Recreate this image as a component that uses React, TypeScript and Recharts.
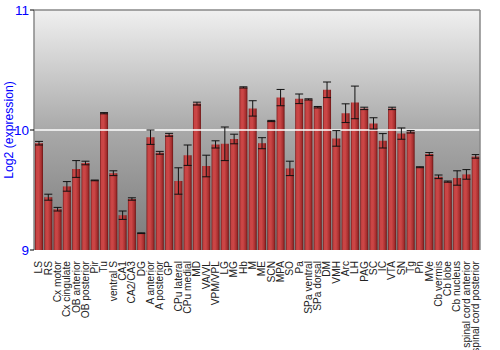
import React from 'react';
import { BarChart, Bar, XAxis, YAxis, ErrorBar, CartesianGrid, ReferenceLine } from 'recharts';

const categories = [
  'LS', 'RS', 'Cx motor', 'Cx cingulate', 'OB anterior', 'OB posterior', 'Pir', 'Tu', 'ventral S', 'CA1',
  'CA2/CA3', 'DG', 'A anterior', 'A posterior', 'GP', 'CPu lateral', 'CPu medial', 'MD', 'VA/VL', 'VPM/VPL',
  'LG', 'MG', 'Hb', 'M', 'ME', 'SCN', 'MPA', 'SO', 'Pa', 'SPa ventral',
  'SPa dorsal', 'DM', 'VMH', 'Arc', 'LH', 'PAG', 'SC', 'IC', 'VTA', 'SN',
  'Tg', 'Pn', 'MVe', 'Cb vermis', 'Cb lobe', 'Cb nucleus', 'spinal cord anterior', 'spinal cord posterior',
];

const values = [
  9.89, 9.44, 9.34, 9.53, 9.675, 9.725, 9.58, 10.14, 9.64, 9.29,
  9.425, 9.14, 9.94, 9.81, 9.96, 9.575, 9.79, 10.22, 9.70, 9.88,
  9.885, 9.925, 10.355, 10.18, 9.89, 10.075, 10.27, 9.68, 10.26, 10.255,
  10.19, 10.335, 9.93, 10.14, 10.23, 10.18, 10.055, 9.91, 10.18, 9.97,
  9.985, 9.69, 9.80, 9.61, 9.57, 9.60, 9.63, 9.78,
];

const errors = [
  0.015, 0.025, 0.015, 0.04, 0.07, 0.015, 0.003, 0.005, 0.02, 0.035,
  0.01, 0.003, 0.06, 0.012, 0.012, 0.11, 0.085, 0.012, 0.09, 0.03,
  0.14, 0.04, 0.005, 0.064, 0.046, 0.005, 0.068, 0.06, 0.04, 0.005,
  0.006, 0.065, 0.065, 0.078, 0.136, 0.01, 0.047, 0.06, 0.01, 0.047,
  0.01, 0.004, 0.012, 0.015, 0.005, 0.06, 0.04, 0.015,
];

const yTicks = [9, 10, 11];
const yLabel = 'Log2 (expression)';

const data = categories.map((name, i) => ({ name, value: values[i], err: errors[i] }));

const font = 'Liberation Sans, Arial, sans-serif';

const XTick = (props: any) => {
  const { x, y, payload } = props;
  return (
    <text
      transform={`translate(${x},${y + 3}) rotate(-90)`}
      textAnchor="end"
      dy="0.36em"
      fontSize={10.2}
      fontFamily={font}
      fill="#222"
    >
      {payload.value}
    </text>
  );
};

const YLabel = (props: any) => {
  const vb = props.viewBox || { x: 0, y: 10, width: 34, height: 240 };
  const cx = vb.x + 13;
  const cy = vb.y + vb.height / 2;
  return (
    <text
      x={cx}
      y={cy}
      transform={`rotate(-90 ${cx} ${cy})`}
      textAnchor="middle"
      fontSize={12.2}
      fontFamily={font}
      fill="#0000ff"
    >
      {yLabel}
    </text>
  );
};

export default function App() {
  return (
    <div style={{ position: 'absolute', left: 0, top: 0, width: 500, height: 350, background: '#fff' }}>
      <BarChart width={500} height={350} data={data} margin={{ top: 10, right: 0, bottom: 0, left: 0 }}>
        <defs>
          <linearGradient id="bg" x1="0" y1="0" x2="0" y2="1">
            <stop offset="0%" stopColor="#f0f0f0" />
            <stop offset="50%" stopColor="#a9a9a9" />
            <stop offset="100%" stopColor="#7a7a7a" />
          </linearGradient>
          <linearGradient id="barGrad" x1="0" y1="0" x2="1" y2="0">
            <stop offset="0%" stopColor="#7a1c1c" />
            <stop offset="18%" stopColor="#c84444" />
            <stop offset="45%" stopColor="#cc4646" />
            <stop offset="80%" stopColor="#a52e2e" />
            <stop offset="100%" stopColor="#6a1515" />
          </linearGradient>
        </defs>
        <CartesianGrid horizontal={false} vertical={false} fill="url(#bg)" />
        <XAxis
          dataKey="name"
          interval={0}
          height={100}
          tick={<XTick />}
          tickLine={false}
          axisLine={false}
        />
        <YAxis
          yAxisId="left"
          orientation="left"
          width={34}
          domain={[9, 11]}
          ticks={yTicks}
          tickSize={4}
          tickMargin={1}
          tickLine={{ stroke: '#000' }}
          axisLine={{ stroke: '#888', strokeWidth: 1.5 }}
          tick={{ fill: '#0000ff', fontSize: 13.5, fontFamily: font }}
          label={<YLabel />}
        />
        <YAxis
          yAxisId="right"
          orientation="right"
          width={20}
          domain={[9, 11]}
          ticks={yTicks}
          tickSize={3}
          tickMargin={1}
          tickLine={{ stroke: '#000' }}
          axisLine={{ stroke: '#888', strokeWidth: 1.5 }}
          tick={{ fill: '#0000ff', fontSize: 13.5, fontFamily: font }}
        />
        <ReferenceLine yAxisId="left" y={10} stroke="#ffffff" strokeWidth={1.5} />
        <ReferenceLine yAxisId="left" y={11} stroke="#888" strokeWidth={1.5} />
        <Bar yAxisId="left" dataKey="value" barSize={8} fill="url(#barGrad)" isAnimationActive={false}>
          <ErrorBar dataKey="err" width={4} stroke="#111" strokeWidth={1} />
        </Bar>
      </BarChart>
    </div>
  );
}
